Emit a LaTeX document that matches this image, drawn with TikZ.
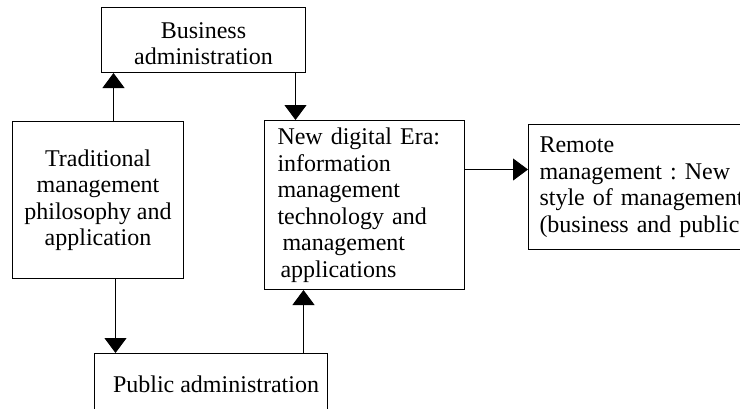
\documentclass[tikz,border=0pt]{standalone}
\usepackage{fontspec}
\setmainfont{Liberation Serif}
\usepackage{tikz}
\usetikzlibrary{calc,arrows.meta}
\frenchspacing

\begin{document}
\begin{tikzpicture}[x=1pt,y=-1pt,
		font=\fontsize{24}{26.5}\selectfont,
		box/.style={draw, line width=1pt, anchor=north west, inner ysep=0pt},
		arr/.style={line width=1pt, -{Triangle[width=22pt,length=15pt]}}]
			\useasboundingbox (0,0) rectangle (740,408);
			\node[box, minimum width=204pt, minimum height=65pt, align=center, inner xsep=0pt] (biz) at (101,7)
			{\rule{0pt}{23pt}Business\\administration};
			\node[box, minimum width=171pt, minimum height=157pt, align=center, inner xsep=0pt] (trad) at (12,121)
			{Traditional\\management\\philosophy and\\application};
			\node[box, minimum width=200pt, minimum height=169pt, text width=174pt, align=left, inner xsep=13pt] (era) at (264,120)
			{New digital Era:\\information\\management\\technology and\\\hspace*{5pt}management\\\hspace*{3pt}applications};
			\node[box, minimum width=237pt, minimum height=125pt, text width=215pt, align=left, inner xsep=11pt] (rem) at (528,124)
			{Remote\\management : New\\style of management\\(business and public)};
			\node[box, minimum width=233pt, minimum height=62pt, align=center, inner xsep=0pt] (pub) at (94,353)
			{\hspace*{10pt}Public administration};
			\draw[arr] ([xshift=15.5pt]trad.north) -- ([xshift=15.5pt]trad.north |- biz.south);
			\draw[arr] ([xshift=92pt]biz.south) -- ([xshift=92pt]biz.south |- era.north);
			\draw[arr] ([xshift=17.5pt]trad.south) -- ([xshift=17.5pt]trad.south |- pub.north);
			\draw[arr] ([xshift=92.5pt]pub.north) -- ([xshift=92.5pt]pub.north |- era.south);
			\draw[arr] ([yshift=35.5pt]era.east) -- ([yshift=35.5pt]era.east -| rem.west);
\end{tikzpicture}
\end{document}
